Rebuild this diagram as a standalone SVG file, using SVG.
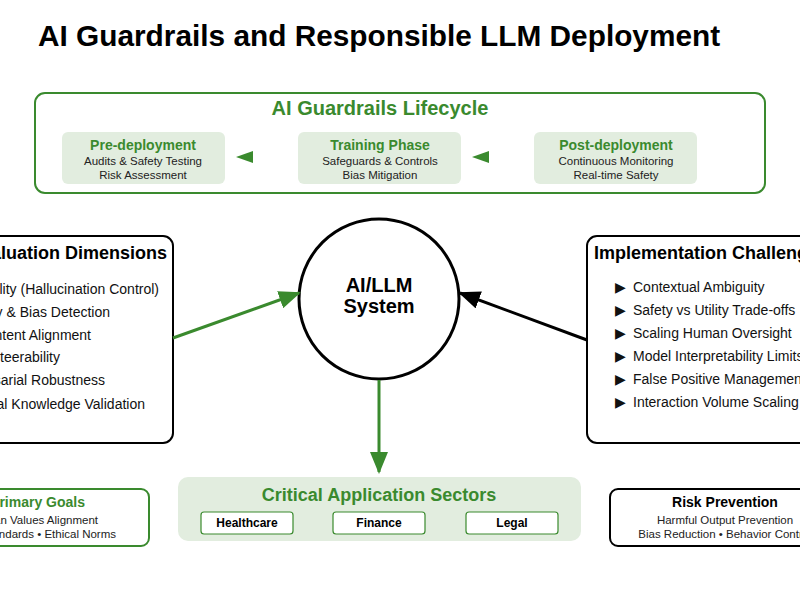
<svg xmlns="http://www.w3.org/2000/svg" width="800" height="600" viewBox="0 0 800 600">
<style>
text{font-family:"Liberation Sans",Arial,sans-serif}
.b{font-weight:bold}
.g{fill:#3a8a2e}
.sm{font-size:11.5px;fill:#222}
.it{font-size:14px;fill:#111}
.phase{fill:#e2eddf;stroke:none}
</style>
<defs>
<marker id="ag" markerWidth="22" markerHeight="18" refX="20" refY="9" orient="auto" markerUnits="userSpaceOnUse" viewBox="0 0 22 18"><path d="M0,0 L22,9 L0,18z" fill="#3a8a2e"/></marker>
<marker id="ak" markerWidth="22" markerHeight="18" refX="20" refY="9" orient="auto" markerUnits="userSpaceOnUse" viewBox="0 0 22 18"><path d="M0,0 L22,9 L0,18z" fill="#000"/></marker>
</defs>
<rect width="800" height="600" fill="#fff"/>
<text x="38" y="46" class="b" font-size="29.8">AI Guardrails and Responsible LLM Deployment</text>

<g id="lifecycle">
<rect x="35" y="93" width="730" height="100" rx="10" fill="#fff" stroke="#3a8a2e" stroke-width="2"/>
<text x="380" y="115" text-anchor="middle" class="b g" font-size="20">AI Guardrails Lifecycle</text>
<g id="pre"><rect class="phase" x="62" y="132" width="163" height="52" rx="6"/>
<text x="143" y="150" text-anchor="middle" class="b g" font-size="14">Pre-deployment</text>
<text x="143" y="165" text-anchor="middle" class="sm">Audits &amp; Safety Testing</text>
<text x="143" y="179" text-anchor="middle" class="sm">Risk Assessment</text></g>
<g id="training"><rect class="phase" x="298" y="132" width="163" height="52" rx="6"/>
<text x="380" y="150" text-anchor="middle" class="b g" font-size="14">Training Phase</text>
<text x="380" y="165" text-anchor="middle" class="sm">Safeguards &amp; Controls</text>
<text x="380" y="179" text-anchor="middle" class="sm">Bias Mitigation</text></g>
<g id="post"><rect class="phase" x="534" y="132" width="163" height="52" rx="6"/>
<text x="616" y="150" text-anchor="middle" class="b g" font-size="14">Post-deployment</text>
<text x="616" y="165" text-anchor="middle" class="sm">Continuous Monitoring</text>
<text x="616" y="179" text-anchor="middle" class="sm">Real-time Safety</text></g>
<path d="M236,157 L253,151 L253,163z" fill="#3a8a2e"/>
<path d="M472,157 L489,151 L489,163z" fill="#3a8a2e"/>
</g>

<g id="evaluation">
<rect x="-200" y="236" width="373" height="207" rx="10" fill="#fff" stroke="#000" stroke-width="2"/>
<text x="167" y="259" text-anchor="end" class="b" font-size="18">Evaluation Dimensions</text>
<text x="159" y="294" text-anchor="end" class="it">▶ Factuality (Hallucination Control)</text>
<text x="110" y="317" text-anchor="end" class="it">▶ Toxicity &amp; Bias Detection</text>
<text x="91" y="340" text-anchor="end" class="it">▶ Content Alignment</text>
<text x="60" y="362" text-anchor="end" class="it">▶ Steerability</text>
<text x="105" y="385" text-anchor="end" class="it">▶ Adversarial Robustness</text>
<text x="145" y="409" text-anchor="end" class="it">▶ External Knowledge Validation</text>
</g>

<g id="core">
<circle cx="379" cy="299" r="80" fill="#fff" stroke="#000" stroke-width="3"/>
<text x="379" y="292" text-anchor="middle" class="b" font-size="20">AI/LLM</text>
<text x="379" y="313" text-anchor="middle" class="b" font-size="20">System</text>
</g>

<g id="challenges">
<rect x="587" y="236" width="300" height="207" rx="10" fill="#fff" stroke="#000" stroke-width="2"/>
<text x="594" y="259" class="b" font-size="18">Implementation Challenges</text>
<text x="615" y="292" class="it">▶</text><text x="633" y="292" class="it">Contextual Ambiguity</text>
<text x="615" y="315" class="it">▶</text><text x="633" y="315" class="it">Safety vs Utility Trade-offs</text>
<text x="615" y="338" class="it">▶</text><text x="633" y="338" class="it">Scaling Human Oversight</text>
<text x="615" y="361" class="it">▶</text><text x="633" y="361" class="it">Model Interpretability Limits</text>
<text x="615" y="384" class="it">▶</text><text x="633" y="384" class="it">False Positive Management</text>
<text x="615" y="407" class="it">▶</text><text x="633" y="407" class="it">Interaction Volume Scaling</text>
</g>

<g id="goals">
<rect x="-60" y="489" width="209" height="57" rx="8" fill="#fff" stroke="#3a8a2e" stroke-width="2"/>
<text x="85" y="507" text-anchor="end" class="b g" font-size="14">Primary Goals</text>
<text x="98" y="524" text-anchor="end" class="sm">Human Values Alignment</text>
<text x="116" y="538" text-anchor="end" class="sm">Safety Standards • Ethical Norms</text>
</g>

<g id="sectors">
<rect x="178" y="477" width="403" height="64" rx="10" fill="#e2eddf"/>
<text x="379" y="501" text-anchor="middle" class="b g" font-size="18">Critical Application Sectors</text>
<rect x="201" y="512" width="92" height="22" rx="3" fill="#fff" stroke="#3a8a2e" stroke-width="1.2"/>
<text x="247" y="527" text-anchor="middle" class="b" font-size="12">Healthcare</text>
<rect x="333" y="512" width="92" height="22" rx="3" fill="#fff" stroke="#3a8a2e" stroke-width="1.2"/>
<text x="379" y="527" text-anchor="middle" class="b" font-size="12">Finance</text>
<rect x="466" y="512" width="92" height="22" rx="3" fill="#fff" stroke="#3a8a2e" stroke-width="1.2"/>
<text x="512" y="527" text-anchor="middle" class="b" font-size="12">Legal</text>
</g>

<g id="risk">
<rect x="610" y="489" width="260" height="57" rx="8" fill="#fff" stroke="#000" stroke-width="2"/>
<text x="725" y="507" text-anchor="middle" class="b" font-size="14">Risk Prevention</text>
<text x="725" y="524" text-anchor="middle" class="sm">Harmful Output Prevention</text>
<text x="725" y="538" text-anchor="middle" class="sm">Bias Reduction • Behavior Control</text>
</g>

<g id="connectors">
<line x1="173" y1="338" x2="299" y2="293" stroke="#3a8a2e" stroke-width="3" marker-end="url(#ag)"/>
<line x1="587" y1="340" x2="460" y2="293" stroke="#000" stroke-width="3" marker-end="url(#ak)"/>
<line x1="379" y1="380" x2="379" y2="472" stroke="#3a8a2e" stroke-width="3" marker-end="url(#ag)"/>
</g>
</svg>
